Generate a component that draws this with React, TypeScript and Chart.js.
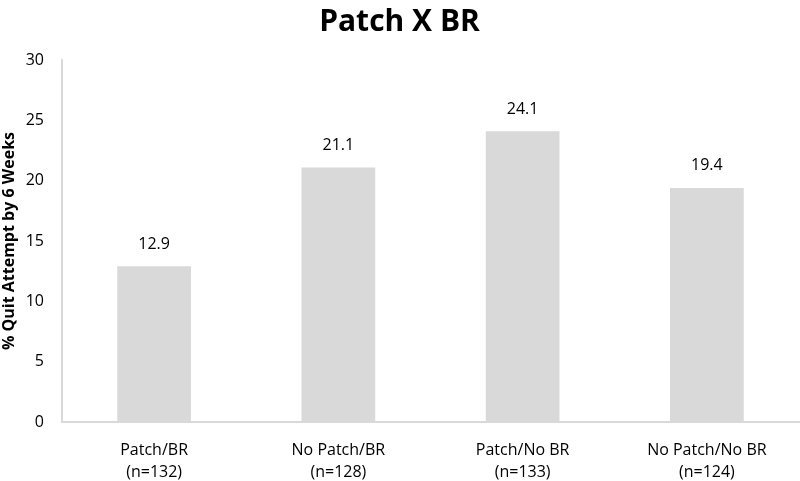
import React, { useEffect, useRef } from "react";
import { Chart, registerables } from "chart.js";

Chart.register(...registerables);

const categories: string[][] = [
  ["Patch/BR", "(n=132)"],
  ["No Patch/BR", "(n=128)"],
  ["Patch/No BR", "(n=133)"],
  ["No Patch/No BR", "(n=124)"],
];
const values: number[] = [12.9, 21.1, 24.1, 19.4];
const yTicks: number[] = [0, 5, 10, 15, 20, 25, 30];

const FONT = "'Open Sans', sans-serif";

const labelPlugin = {
  id: "barLabels",
  afterDatasetsDraw(chart: any) {
    const ctx = chart.ctx;
    const meta = chart.getDatasetMeta(0);
    ctx.save();
    ctx.font = `16px ${FONT}`;
    ctx.fillStyle = "#000";
    ctx.textAlign = "center";
    ctx.textBaseline = "middle";
    meta.data.forEach((bar: any, i: number) => {
      ctx.fillText(values[i].toFixed(1), bar.x, bar.y - 22);
    });
    ctx.restore();
  },
};

export default function App() {
  const ref = useRef<HTMLCanvasElement>(null);
  useEffect(() => {
    if (!ref.current) return;
    const chart = new Chart(ref.current, {
      type: "bar",
      data: {
        labels: categories,
        datasets: [
          {
            data: values,
            backgroundColor: "#d9d9d9",
            borderWidth: 0,
            categoryPercentage: 1,
            barPercentage: 0.4,
          },
        ],
      },
      options: {
        animation: false,
        responsive: true,
        maintainAspectRatio: false,
        layout: { padding: { left: 0, right: 1, top: 0, bottom: 0 } },
        plugins: {
          legend: { display: false },
          tooltip: { enabled: false },
          title: {
            display: true,
            text: "Patch X BR",
            color: "#000",
            font: { family: FONT, size: 30, weight: "bold" },
            padding: { top: 4, bottom: 20 },
          },
        },
        scales: {
          x: {
            grid: { display: false },
            border: { display: true, color: "#d9d9d9", width: 2 },
            ticks: {
              color: "#000",
              font: { family: FONT, size: 16, lineHeight: 1.35 },
              padding: 10,
              maxRotation: 0,
            },
            afterFit: (s: any) => {
              s.height = 59;
            },
          },
          y: {
            min: 0,
            max: 30,
            afterBuildTicks: (s: any) => {
              s.ticks = yTicks.map((v) => ({ value: v }));
            },
            grid: { display: false },
            border: { display: true, color: "#d9d9d9", width: 2 },
            ticks: {
              color: "#000",
              font: { family: FONT, size: 16 },
              padding: 10,
            },
            title: {
              display: true,
              text: "% Quit Attempt by 6 Weeks",
              color: "#000",
              font: { family: FONT, size: 16, weight: "bold" },
              padding: 0,
            },
            afterFit: (s: any) => {
              s.width = 62;
            },
          },
        },
      },
      plugins: [labelPlugin],
    });
    return () => chart.destroy();
  }, []);
  return (
    <div style={{ position: "fixed", left: 0, top: 0, width: 800, height: 481, background: "#fff" }}>
      <canvas ref={ref} />
    </div>
  );
}
